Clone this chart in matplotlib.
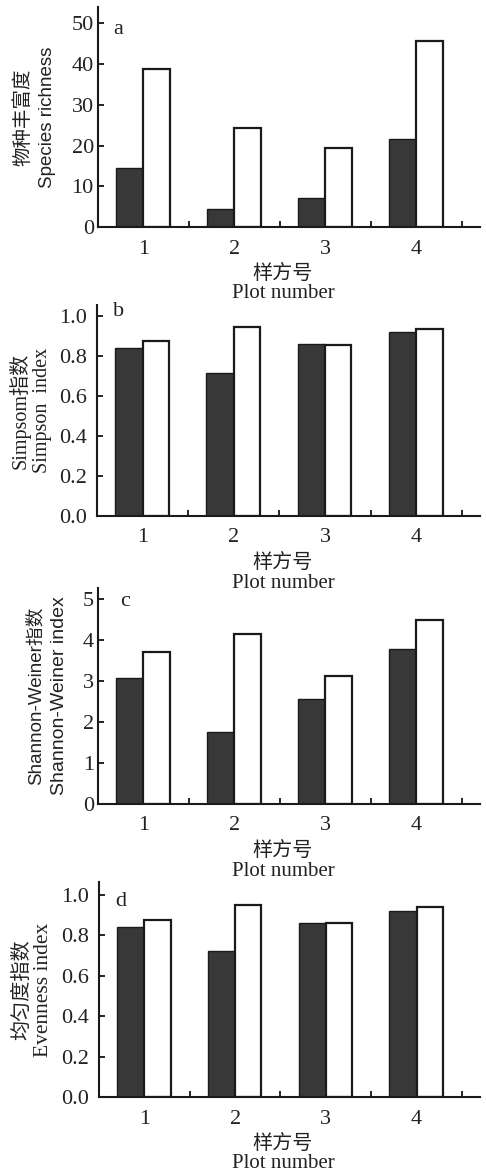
import numpy as np
import matplotlib
matplotlib.use('Agg')
import matplotlib.pyplot as plt
from matplotlib.ticker import FormatStrFormatter

# 数据
plots = [1, 2, 3, 4]
richness_dark = [14.5, 4.3, 7.2, 21.6]
richness_white = [38.9, 24.2, 19.4, 45.7]
simpson_dark = [0.838, 0.716, 0.858, 0.918]
simpson_white = [0.875, 0.945, 0.855, 0.937]
shannon_dark = [3.07, 1.75, 2.56, 3.79]
shannon_white = [3.70, 4.15, 3.13, 4.50]
even_dark = [0.840, 0.722, 0.862, 0.921]
even_white = [0.875, 0.947, 0.860, 0.937]

serif = ['Liberation Serif', 'Noto Sans CJK SC']
sans = ['Liberation Sans', 'Noto Sans CJK SC']
cjk = ['Noto Sans CJK SC', 'Liberation Serif']

W, H = 486, 1174
fig = plt.figure(figsize=(W / 100, H / 100), dpi=100)

def fx(x):
    return x / W

def fy(y):
    return 1 - y / H

# 每个面板: 框(左, 上, 右, 下 像素), 数据, y范围, y刻度, 格式, 字母位置, y标签
panels = [
    dict(box=(98, 7, 480, 227), d=richness_dark, w=richness_white, ymax=54,
         ticks=np.arange(0, 51, 10), fmt='%d', pad=3, letter='a', lpos=(113, 29),
         ylab=[('物种丰富度', 23, cjk, 14), ('Species richness', 47, sans, 13.5)]),
    dict(box=(97, 305, 480, 516), d=simpson_dark, w=simpson_white, ymax=1.055,
         ticks=np.arange(0, 1.01, 0.2), fmt='%.1f', pad=7, letter='b', lpos=(113, 312),
         ylab=[('Simpsom指数', 20, serif, 14.5), ('Simpson  index', 43, serif, 14.5)]),
    dict(box=(98, 588, 480, 804), d=shannon_dark, w=shannon_white, ymax=5.27,
         ticks=np.arange(0, 6, 1), fmt='%d', pad=3, letter='c', lpos=(120, 601),
         ylab=[('Shannon-Weiner指数', 36, sans, 13.5), ('Shannon-Weiner index', 60, sans, 14)]),
    dict(box=(99, 882, 480, 1097), d=even_dark, w=even_white, ymax=1.063,
         ticks=np.arange(0, 1.01, 0.2), fmt='%.1f', pad=7, letter='d', lpos=(115, 902),
         ylab=[('均匀度指数', 22, cjk, 14.5), ('Evenness index', 43, serif, 15.5)]),
]

x = np.array(plots)
for p in panels:
    l, t, r, b = p['box']
    ax = fig.add_axes([fx(l), fy(b), fx(r) - fx(l), fy(t) - fy(b)])
    ax.bar(x, p['d'], width=-0.3, align='edge', color='#383838',
           edgecolor='#1a1a1a', linewidth=1.0)
    ax.bar(x, p['w'], width=0.29, align='edge', color='white',
           edgecolor='#1a1a1a', linewidth=1.6)
    ax.set_xlim(0.5, 4.7)
    ax.set_ylim(0, p['ymax'])
    ax.set_yticks(p['ticks'])
    ax.yaxis.set_major_formatter(FormatStrFormatter(p['fmt']))
    ax.set_xticks(plots)
    ax.set_xticks([1.5, 2.5, 3.5, 4.5], minor=True)
    ax.tick_params(axis='y', direction='in', length=4, width=1.2, pad=p['pad'],
                   labelsize=16)
    ax.tick_params(axis='x', which='major', length=0, pad=9, labelsize=16)
    ax.tick_params(axis='x', which='minor', direction='in', length=4, width=1.2)
    for lab in ax.get_xticklabels() + ax.get_yticklabels():
        lab.set_family(serif)
        lab.set_color('#222222')
    for s in ['top', 'right']:
        ax.spines[s].set_visible(False)
    for s in ['left', 'bottom']:
        ax.spines[s].set_linewidth(1.5)
        ax.spines[s].set_color('#1a1a1a')

    fig.text(fx(p['lpos'][0]), fy(p['lpos'][1]), p['letter'], family=serif,
             fontsize=16, ha='left', va='center', color='#222222')

    yc = fy((t + b) / 2)
    for txt, xp, fam, fs in p['ylab']:
        fig.text(fx(xp), yc, txt, rotation=90, ha='center', va='center',
                 family=fam, fontsize=fs, color='#222222')

    fig.text(fx(283), fy(b + 46), '样方号', family=cjk, fontsize=14.5,
             ha='center', va='center', color='#222222')
    fig.text(fx(283), fy(b + 67), 'Plot number', family=serif, fontsize=15,
             ha='center', va='center', color='#222222')

fig.savefig('out.png', dpi=100)
